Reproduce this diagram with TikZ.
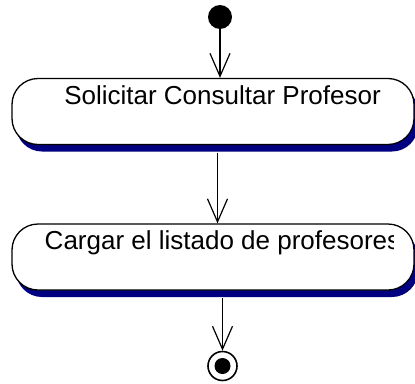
\documentclass[tikz,border=0pt]{standalone}
\usepackage{fontspec}
\setmainfont{Liberation Sans}
\usetikzlibrary{arrows.meta,shadows}
\definecolor{shadowblue}{RGB}{0,0,128}
\tikzset{
  activity/.style={draw, line width=1.3pt, fill=white, rounded corners=26pt,
    minimum width=402pt, minimum height=66pt, inner sep=0pt,
    drop shadow={shadow xshift=4pt, shadow yshift=-7pt, fill=shadowblue, opacity=1}},
  acttext/.style={anchor=base, inner sep=0pt, font=\fontsize{26}{30}\selectfont},
  flow/.style={line width=1.2pt, -{Straight Barb[length=23pt, width=20pt, line width=1.2pt]}}
}
\begin{document}
\begin{tikzpicture}[x=1pt, y=-1pt]
\useasboundingbox (0,0) rectangle (415,383);
\node[circle, fill=black, inner sep=0pt, minimum size=24pt] (start) at (220,17) {};
\node[activity] (consultar) at (213,111.5) {};
\node[acttext] (consultartxt) at (222.5,104) {Solicitar Consultar Profesor};
\node[activity] (cargar) at (213,257) {};
\begin{scope}
\clip (12,224) rectangle (393,290);
\node[acttext] (cargartxt) at (222.5,249) {Cargar el listado de profesores};
\end{scope}
\node[circle, draw, line width=1.6pt, inner sep=0pt, minimum size=29pt] (end) at (222.5,366) {};
\node[circle, fill=black, inner sep=0pt, minimum size=16pt] (endin) at (end) {};
\draw[flow] (start) -- (start |- consultar.north);
\draw[flow, shorten <=7.5pt] ([xshift=4.5pt]consultar.south) -- ([xshift=4.5pt]cargar.north);
\draw[flow, shorten <=7.5pt] (cargar.south -| end) -- (end);
\end{tikzpicture}
\end{document}
